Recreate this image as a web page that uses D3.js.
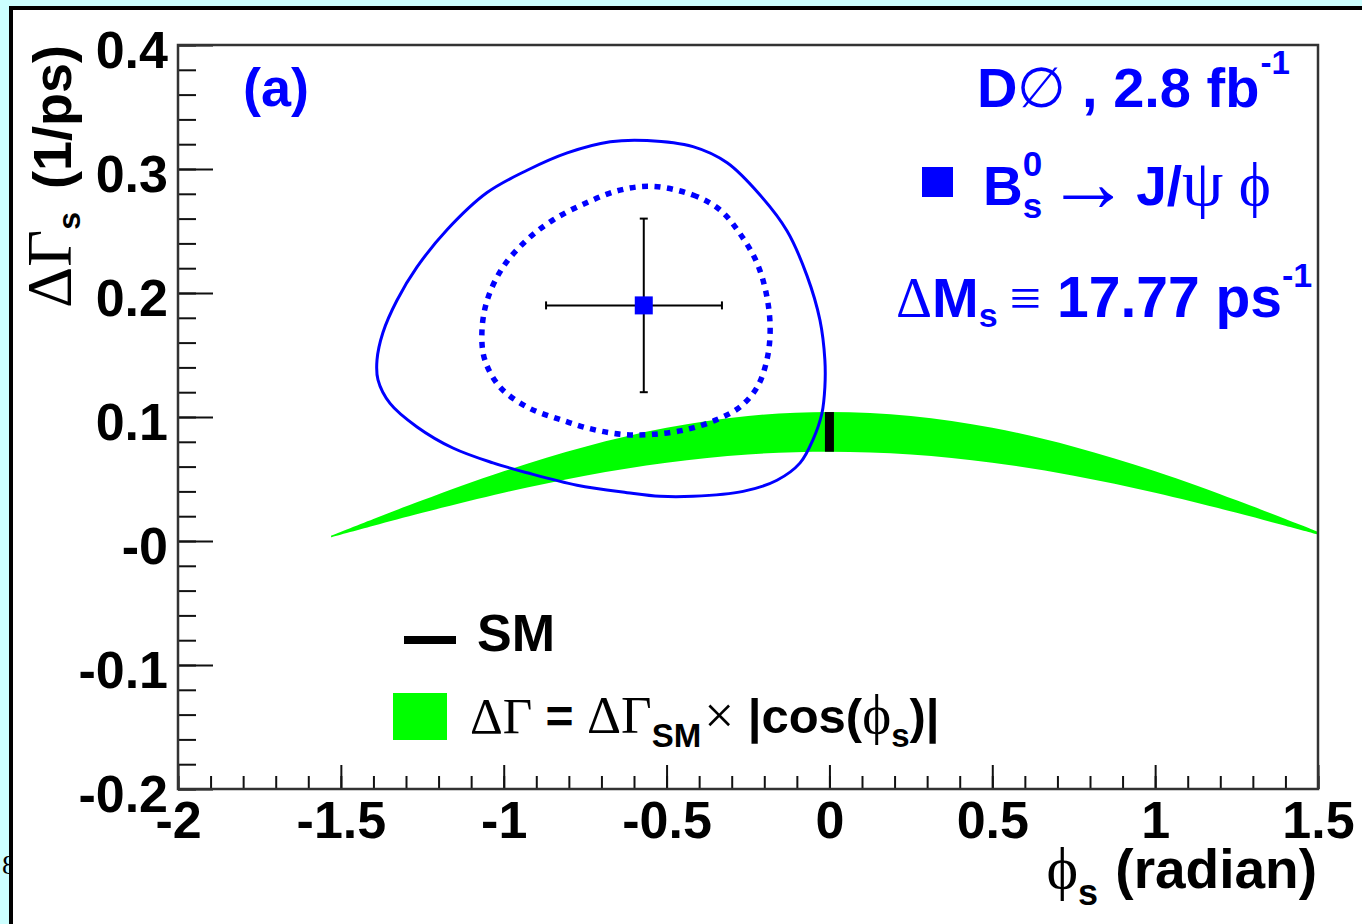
<!DOCTYPE html>
<html lang="en">
<head>
<meta charset="UTF-8">
<script src="https://d3js.org/d3.v7.min.js"></script>
<title>DGamma_s vs phi_s</title>
<style>
  body { margin: 0; background: #ccffff; }
  svg text { white-space: pre; }
</style>
</head>
<body>
<script>
// axis ticks
var phiTicks = [-2, -1.5, -1, -0.5, 0, 0.5, 1, 1.5];
var dgTicks = [-0.2, -0.1, 0, 0.1, 0.2, 0.3, 0.4];
var dgTickLabels = ["-0.2", "-0.1", "-0", "0.1", "0.2", "0.3", "0.4"];

// outer contour (solid)
var outerPhi = [-0.560, -0.419, -0.314, -0.213, -0.130, -0.069, -0.029, -0.014, -0.014, -0.023, -0.050, -0.090,
                -0.161, -0.265, -0.419, -0.520, -0.621, -0.775, -0.928, -1.033, -1.156, -1.266, -1.349, -1.386,
                -1.389, -1.371, -1.328, -1.266, -1.174, -1.051, -0.928, -0.805, -0.673];
var outerDG = [0.323, 0.318, 0.305, 0.279, 0.250, 0.214, 0.178, 0.146, 0.124, 0.103, 0.082, 0.063,
               0.049, 0.040, 0.036, 0.036, 0.039, 0.045, 0.055, 0.063, 0.075, 0.092, 0.111, 0.130,
               0.146, 0.168, 0.194, 0.221, 0.251, 0.281, 0.299, 0.313, 0.322];

// inner contour (dotted)
var innerPhi = [-0.542, -0.419, -0.336, -0.275, -0.222, -0.192, -0.182, -0.192, -0.222, -0.275, -0.345, -0.437,
                -0.542, -0.634, -0.726, -0.827, -0.928, -1.011, -1.058, -1.067, -1.051, -1.002, -0.928, -0.848,
                -0.744, -0.643];
var innerDG = [0.286, 0.279, 0.267, 0.248, 0.224, 0.197, 0.170, 0.146, 0.124, 0.108, 0.098, 0.090,
               0.086, 0.086, 0.090, 0.098, 0.108, 0.124, 0.146, 0.168, 0.194, 0.221, 0.243, 0.259,
               0.273, 0.283];

// green band: dGamma_SM x |cos(phi_s)|
var bandPhi  = [-1.53, -1.4, -1.25, -1.0, -0.75, -0.5, -0.25, 0, 0.25, 0.5, 0.75, 1.0, 1.25, 1.4, 1.5];
var bandLow  = [0.0029, 0.0122, 0.0227, 0.0389, 0.0527, 0.0632, 0.0698, 0.072, 0.0698, 0.0632, 0.0527, 0.0389, 0.0227, 0.0122, 0.0051];
var bandHigh = [0.0042, 0.0177, 0.0328, 0.0562, 0.0761, 0.0913, 0.1008, 0.104, 0.1008, 0.0913, 0.0761, 0.0562, 0.0328, 0.0177, 0.0074];

// SM prediction
var smPhi = [0];
var smLow = [0.072];
var smHigh = [0.104];

// measured point with asymmetric errors
var bestPhi = [-0.57], bestDG = [0.19];
var errPhiLo = [0.30], errPhiHi = [0.24], errDGLo = [0.07], errDGHi = [0.07];

var SANS = "'Liberation Sans', Arial, Helvetica, sans-serif";
var SERIF = "'Liberation Serif', 'DejaVu Serif', 'Times New Roman', serif";
var BLUE = "#0000ff", GREEN = "#00ff00";

var width = 1362, height = 924;
var padL = 178, padR = 1318, padT = 45, padB = 789;   // frame edges in px

var svg = d3.select("body").append("svg")
    .attr("width", width).attr("height", height)
    .style("display", "block");

svg.append("rect").attr("width", width).attr("height", height).attr("fill", "#ccffff");

// stray glyph peeking out at the left border
svg.append("text").attr("x", 2).attr("y", 874)
    .attr("font-family", SERIF).attr("font-size", 28).text("8");

// white panel with black border (continues past the window)
svg.append("rect").attr("x", 11).attr("y", 8).attr("width", 2000).attr("height", 2000)
    .attr("fill", "#fff").attr("stroke", "#000").attr("stroke-width", 4);

var x = d3.scaleLinear().domain([-2, 1.5]).range([padL, padR]);
var y = d3.scaleLinear().domain([-0.2, 0.4]).range([padB, padT]);

svg.append("clipPath").attr("id", "plotclip")
    .append("rect").attr("x", padL).attr("y", padT).attr("width", padR - padL).attr("height", padB - padT);

var plot = svg.append("g").attr("clip-path", "url(#plotclip)");

// band
var area = d3.area()
    .x(function (d) { return x(d[0]); })
    .y0(function (d) { return y(d[1]); })
    .y1(function (d) { return y(d[2]); })
    .curve(d3.curveCatmullRom);
plot.append("path")
    .datum(bandPhi.map(function (p, i) { return [p, bandLow[i], bandHigh[i]]; }))
    .attr("d", area).attr("fill", GREEN);

// SM bar
plot.selectAll("rect.sm").data(smPhi).enter().append("rect").attr("class", "sm")
    .attr("x", function (d) { return x(d) - 4.5; })
    .attr("width", 9)
    .attr("y", function (d, i) { return y(smHigh[i]); })
    .attr("height", function (d, i) { return y(smLow[i]) - y(smHigh[i]); })
    .attr("fill", "#000");

// contours
var line = d3.line()
    .x(function (d) { return x(d[0]); })
    .y(function (d) { return y(d[1]); })
    .curve(d3.curveCatmullRomClosed.alpha(0.5));

plot.append("path")
    .datum(outerPhi.map(function (p, i) { return [p, outerDG[i]]; }))
    .attr("d", line).attr("fill", "none").attr("stroke", BLUE).attr("stroke-width", 3);

plot.append("path")
    .datum(innerPhi.map(function (p, i) { return [p, innerDG[i]]; }))
    .attr("d", line).attr("fill", "none").attr("stroke", BLUE).attr("stroke-width", 5.5)
    .attr("stroke-dasharray", "6 6.5");

// error bars
var eb = plot.append("g").attr("stroke", "#000").attr("stroke-width", 2);
bestPhi.forEach(function (p, i) {
    var cx = x(p), cy = y(bestDG[i]);
    var xl = x(p - errPhiLo[i]), xr = x(p + errPhiHi[i]);
    var yt = y(bestDG[i] + errDGHi[i]), yb = y(bestDG[i] - errDGLo[i]);
    eb.append("line").attr("x1", xl).attr("x2", xr).attr("y1", cy).attr("y2", cy);
    eb.append("line").attr("x1", cx).attr("x2", cx).attr("y1", yt).attr("y2", yb);
    eb.append("line").attr("x1", xl).attr("x2", xl).attr("y1", cy - 4).attr("y2", cy + 4);
    eb.append("line").attr("x1", xr).attr("x2", xr).attr("y1", cy - 4).attr("y2", cy + 4);
    eb.append("line").attr("x1", cx - 4).attr("x2", cx + 4).attr("y1", yt).attr("y2", yt);
    eb.append("line").attr("x1", cx - 4).attr("x2", cx + 4).attr("y1", yb).attr("y2", yb);
    plot.append("rect").attr("x", cx - 9).attr("y", cy - 9).attr("width", 18).attr("height", 18).attr("fill", BLUE);
});

// axes
function styleAxis(g) {
    g.select(".domain").remove();
    g.selectAll(".tick line").attr("stroke", "#111").attr("stroke-width", 2);
    g.selectAll("text").attr("font-family", SANS).attr("font-weight", "bold")
        .attr("font-size", 52).attr("fill", "#000");
}

var xMinor = d3.range(-20, 16).map(function (d) { return d / 10; });
var yMinor = d3.range(-10, 21).map(function (d) { return d / 50; });

svg.append("g").attr("transform", "translate(0," + padB + ")")
    .call(d3.axisBottom(x).tickValues(xMinor).tickSize(-13).tickFormat(""))
    .call(styleAxis);
svg.append("g").attr("transform", "translate(0," + padB + ")")
    .call(d3.axisBottom(x).tickValues(phiTicks).tickSize(-24).tickPadding(12)
        .tickFormat(function (d) { return String(d); }))
    .call(styleAxis);

svg.append("g").attr("transform", "translate(" + padL + ",0)")
    .call(d3.axisLeft(y).tickValues(yMinor).tickSize(-18).tickFormat(""))
    .call(styleAxis);
var yAx = svg.append("g").attr("transform", "translate(" + padL + ",0)")
    .call(d3.axisLeft(y).tickValues(dgTicks).tickSize(-35).tickPadding(10)
        .tickFormat(function (d, i) { return dgTickLabels[i]; }))
    .call(styleAxis);
yAx.selectAll("text").attr("dy", "0.43em");

// frame
svg.append("rect").attr("x", padL).attr("y", padT).attr("width", padR - padL).attr("height", padB - padT)
    .attr("fill", "none").attr("stroke", "#333").attr("stroke-width", 2.5);

// rich text helper: parts = [text, symbolFont?, size, baselineOffset, dx]
function rich(x0, y0, anchor, color, parts, rot) {
    var t = svg.append("text")
        .attr("transform", "translate(" + x0 + "," + y0 + ")" + (rot ? " rotate(" + rot + ")" : ""))
        .attr("text-anchor", anchor).attr("fill", color);
    var cur = 0;
    parts.forEach(function (p) {
        var off = p[3] || 0;
        t.append("tspan")
            .attr("dy", off - cur).attr("dx", p[4] || 0)
            .attr("font-family", p[1] ? SERIF : SANS)
            .attr("font-weight", p[1] ? "normal" : "bold")
            .attr("font-size", p[2]).text(p[0]);
        cur = off;
    });
    return t;
}

rich(243, 106, "start", BLUE, [["(a)", 0, 54]]);

rich(977, 107, "start", BLUE, [
    ["D", 0, 56], ["\u2205", 1, 56], [" , 2.8 fb", 0, 56], ["-1", 0, 33, -33, 1]
]);

svg.append("rect").attr("x", 922).attr("y", 167).attr("width", 31).attr("height", 30).attr("fill", BLUE);
rich(983, 205, "start", BLUE, [
    ["B", 0, 55], ["0", 0, 35, -29], ["s", 0, 35, 13, -19.5], ["\u2192", 1, 84, 6, 4],
    ["J/", 0, 55, 0, 6], ["\u03c8", 1, 66], [" \u03d5", 1, 61]
]);

rich(896, 317, "start", BLUE, [
    ["\u0394", 1, 56], ["M", 0, 56], ["s", 0, 34, 10], ["\u2261", 1, 56, 0, 12],
    [" 17.77 ps", 0, 57], ["-1", 0, 34, -30]
]);

// legend
svg.append("line").attr("x1", 404).attr("x2", 456).attr("y1", 640).attr("y2", 640)
    .attr("stroke", "#000").attr("stroke-width", 8);
rich(477, 651, "start", "#000", [["SM", 0, 52]]);

svg.append("rect").attr("x", 393).attr("y", 693).attr("width", 54).attr("height", 47).attr("fill", GREEN);
rich(470, 733, "start", "#000", [
    ["\u0394\u0393", 1, 51], [" = ", 0, 48], ["\u0394\u0393", 1, 53], ["SM", 0, 33, 14],
    ["\u00d7", 1, 53, 0, 3], [" |cos(", 0, 49, 0], ["\u03d5", 1, 55], ["s", 0, 33, 14], [")|", 0, 49, 0]
]);

// axis titles
rich(1317, 888, "end", "#000", [["\u03d5", 1, 60], ["s", 0, 36, 17], [" (radian)", 0, 55, 0, 2]]);
rich(71, 45, "end", "#000", [["\u0394\u0393", 1, 64], ["s", 0, 32, 9], [" (1/ps)", 0, 54, 0, 8]], -90);
</script>
</body>
</html>
